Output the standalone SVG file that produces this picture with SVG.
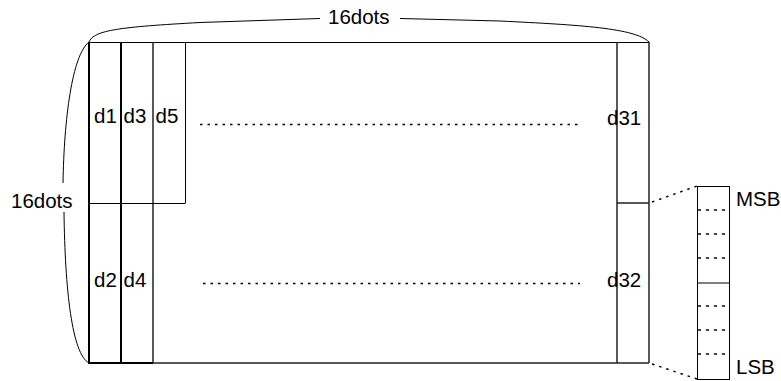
<svg xmlns="http://www.w3.org/2000/svg" width="781" height="381" viewBox="0 0 781 381">
<style>
text{font-family:"Liberation Sans",Arial,sans-serif;font-size:20.5px;fill:#000}
.thick{stroke:#000;stroke-width:2;fill:none}
.thin{stroke:#000;stroke-width:1;fill:none}
.gray{stroke:#222;stroke-width:1.5;fill:none}
.dot{stroke:#000;stroke-width:1.5;stroke-dasharray:2.5 5;fill:none}
.bdot{stroke:#000;stroke-width:1.5;stroke-dasharray:3 5;fill:none}
</style>
<rect width="781" height="381" fill="#fff"/>
<g id="matrix">
  <line class="thin" x1="89" y1="42.5" x2="649" y2="42.5"/>
  <line class="gray" x1="153" y1="363" x2="649" y2="363"/>
  <line class="thick" x1="89" y1="363" x2="153" y2="363"/>
  <line class="thick" x1="89" y1="42" x2="89" y2="364"/>
  <line class="thick" x1="121" y1="42" x2="121" y2="364"/>
  <line class="gray" x1="153" y1="42" x2="153" y2="363"/>
  <line class="thin" x1="185.5" y1="42" x2="185.5" y2="203"/>
  <line class="thin" x1="89" y1="203.5" x2="185.5" y2="203.5"/>
  <line class="gray" x1="617" y1="42" x2="617" y2="363"/>
  <line class="gray" x1="649" y1="42" x2="649" y2="363"/>
  <line class="gray" x1="617" y1="203" x2="649" y2="203"/>
</g>
<g id="labels">
  <text x="94" y="123">d1</text>
  <text x="123.5" y="123">d3</text>
  <text x="155.5" y="123">d5</text>
  <text x="94" y="287">d2</text>
  <text x="123.5" y="287">d4</text>
  <text x="607" y="125">d31</text>
  <text x="607" y="287">d32</text>
</g>
<g id="ellipsis">
  <line class="dot" x1="200" y1="124.5" x2="580" y2="124.5"/>
  <line class="dot" x1="203" y1="283.5" x2="580" y2="283.5"/>
</g>
<g id="braces">
  <path class="thin" d="M89,42 C94,30 120,27 200,22.5 L320,18.5"/>
  <path class="thin" d="M400,18.5 L500,21 C580,25 635,28 649,42"/>
  <text x="328" y="23.5">16dots</text>
  <path class="thin" d="M89,42 C72,55 64,120 63,183"/>
  <path class="thin" d="M64,212 C65,290 72,354 89,363"/>
  <text x="11" y="207.5">16dots</text>
</g>
<g id="byte">
  <rect class="thin" x="697.5" y="186.5" width="32" height="193"/>
  <line class="thin" x1="697.5" y1="283" x2="729.5" y2="283"/>
  <line class="bdot" x1="698" y1="210" x2="729" y2="210"/>
  <line class="bdot" x1="698" y1="234" x2="729" y2="234"/>
  <line class="bdot" x1="698" y1="258" x2="729" y2="258"/>
  <line class="bdot" x1="698" y1="306" x2="729" y2="306"/>
  <line class="bdot" x1="698" y1="330" x2="729" y2="330"/>
  <line class="bdot" x1="698" y1="354" x2="729" y2="354"/>
  <text x="736" y="206">MSB</text>
  <text x="736" y="374">LSB</text>
</g>
<g id="connectors">
  <line class="dot" x1="652" y1="202" x2="697" y2="186"/>
  <line class="dot" x1="652" y1="364" x2="697" y2="379"/>
</g>
</svg>
